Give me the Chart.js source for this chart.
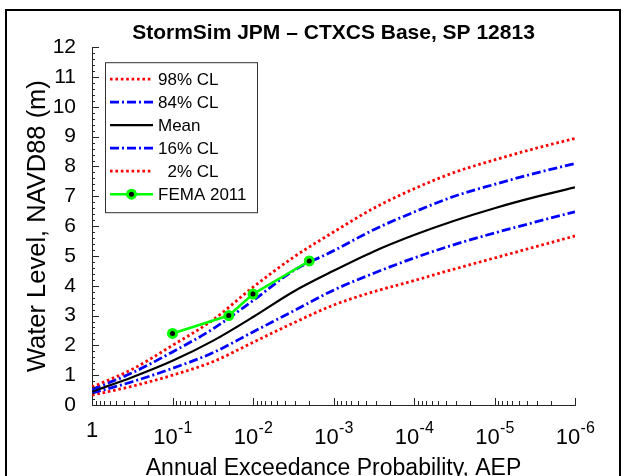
<!DOCTYPE html>
<html><head><meta charset="utf-8">
<script src="https://cdn.jsdelivr.net/npm/chart.js@4.4.0/dist/chart.umd.min.js"></script>
<style>
html,body{margin:0;padding:0;background:#fff;overflow:hidden;width:627px;height:476px}
#wrap{position:relative;width:627px;height:476px;overflow:hidden;background:#fff}
#frame{position:absolute;left:5px;top:9px;width:616px;height:600px;border:2px solid #000;box-sizing:border-box;pointer-events:none}
canvas{position:absolute;left:0;top:0}
</style></head><body>
<div id="wrap"><canvas id="c" width="627" height="490"></canvas><div id="frame"></div></div>
<script>
// ---- data ----
const aep   = [1, 0.316, 0.1, 0.0316, 0.01, 0.00316, 0.001, 3.16e-4, 1e-4, 3.16e-5, 1e-5, 3.16e-6, 1e-6];
const cl98  = [0.6, 1.2, 2.0, 2.85, 3.95, 4.95, 5.8, 6.6, 7.25, 7.8, 8.22, 8.6, 8.94];
const cl84  = [0.52, 1.08, 1.78, 2.55, 3.5, 4.5, 5.17, 5.88, 6.47, 7.0, 7.4, 7.77, 8.1];
const mean  = [0.45, 0.93, 1.48, 2.15, 2.95, 3.8, 4.5, 5.15, 5.7, 6.18, 6.6, 6.97, 7.3];
const cl16  = [0.4, 0.78, 1.23, 1.75, 2.45, 3.15, 3.85, 4.42, 4.93, 5.38, 5.77, 6.13, 6.48];
const cl02  = [0.33, 0.63, 1.0, 1.45, 2.1, 2.75, 3.35, 3.8, 4.17, 4.56, 4.93, 5.3, 5.67];
const femaAep = [0.1, 0.02, 0.01, 0.002];
const femaWl  = [2.4, 3.0, 3.72, 4.83];
const xTickValues = [1, 1e-1, 1e-2, 1e-3, 1e-4, 1e-5, 1e-6];
const yTickValues = [0,1,2,3,4,5,6,7,8,9,10,11,12];
const seriesLabels = ['98% CL', '84% CL', 'Mean', '16% CL', '  2% CL', 'FEMA 2011'];
const titleText = 'StormSim JPM – CTXCS Base, SP 12813';
const xTitle = 'Annual Exceedance Probability, AEP';
const yTitle = 'Water Level, NAVD88 (m)';

const F = "'Liberation Sans', Arial, 'DejaVu Sans', sans-serif";
const pts = (xs, ys) => xs.map((x,i)=>({x, y: ys[i]}));

const RED='#ff0000', BLUE='#0000ff', GREEN='#00ff00';
const curve = {pointRadius:0, fill:false, cubicInterpolationMode:'monotone', order:1};
const datasets = [
  Object.assign({label:seriesLabels[0], data:pts(aep,cl98), borderColor:RED, borderWidth:2.8, borderDash:[2.6,2.8]}, curve),
  Object.assign({label:seriesLabels[1], data:pts(aep,cl84), borderColor:BLUE, borderWidth:2.8, borderDash:[9,3,2,3]}, curve),
  Object.assign({label:seriesLabels[2], data:pts(aep,mean), borderColor:'#000', borderWidth:2.2}, curve),
  Object.assign({label:seriesLabels[3], data:pts(aep,cl16), borderColor:BLUE, borderWidth:2.8, borderDash:[9,3,2,3]}, curve),
  Object.assign({label:seriesLabels[4], data:pts(aep,cl02), borderColor:RED, borderWidth:2.8, borderDash:[2.6,2.8]}, curve),
  {label:seriesLabels[5], data:pts(femaAep,femaWl), borderColor:GREEN, borderWidth:2.5, pointRadius:4,
   pointBackgroundColor:'#000', pointBorderColor:GREEN, pointBorderWidth:3, fill:false, tension:0, order:0}
];

// inward MATLAB-style tick marks + x tick labels with superscript exponents
const axisTicks = {
  id:'axisTicks',
  afterDraw(chart){
    const {ctx, scales:{x,y}, chartArea:a} = chart;
    ctx.save(); ctx.strokeStyle='#262626'; ctx.lineWidth=1; ctx.beginPath();
    for (let e=0; e>=-6; e--) for (let m=1; m<=9; m++){
      const v = m*Math.pow(10,e); if (v>1.0000001 || v<0.99e-6) continue;
      const px = Math.round(x.getPixelForValue(v))+0.5; const len = m===1?7:4;
      ctx.moveTo(px,a.bottom); ctx.lineTo(px,a.bottom-len);
    }
    for (let k=0; k<=60; k++){
      const py = Math.round(y.getPixelForValue(k/5))+0.5; const len = k%5===0?7:3;
      ctx.moveTo(a.left,py); ctx.lineTo(a.left+len,py);
    }
    ctx.stroke();
    ctx.fillStyle='#000'; ctx.textBaseline='alphabetic'; ctx.textAlign='left';
    const base = a.bottom + 39;
    xTickValues.forEach(v=>{
      const px = x.getPixelForValue(v);
      const e = Math.round(Math.log10(v));
      ctx.font = '22px ' + F;
      if (e === 0){ const w = ctx.measureText('1').width; ctx.fillText('1', px - w/2, base - 7); return; }
      const w10 = ctx.measureText('10').width;
      ctx.font = '16px ' + F;
      const es = String(e); const we = ctx.measureText(es).width;
      const x0 = px - (w10 + we)/2;
      ctx.font = '22px ' + F; ctx.fillText('10', x0, base);
      ctx.font = '16px ' + F; ctx.fillText(es, x0 + w10 + 0.5, base - 11);
    });
    ctx.restore();
  }
};

const boxLegend = {
  id:'boxLegend',
  afterDatasetsDraw(chart){
    const ctx = chart.ctx, a = chart.chartArea;
    const x0 = a.left+13, y0 = a.top+15, w = 152, h = 150;
    ctx.save();
    ctx.fillStyle='#fff'; ctx.fillRect(x0,y0,w,h);
    ctx.strokeStyle='#333'; ctx.lineWidth=1; ctx.strokeRect(x0+0.5,y0+0.5,w,h);
    chart.data.datasets.forEach((ds,i)=>{
      const cy = y0 + 17 + i*23;
      ctx.save();
      ctx.strokeStyle = ds.borderColor; ctx.lineWidth = ds.borderWidth;
      ctx.setLineDash(ds.borderDash || []);
      ctx.beginPath(); ctx.moveTo(x0+5, cy); ctx.lineTo(x0+48, cy); ctx.stroke();
      ctx.setLineDash([]);
      if (ds.pointRadius){
        ctx.beginPath(); ctx.arc(x0+26.5, cy, ds.pointRadius, 0, Math.PI*2);
        ctx.fillStyle = ds.pointBackgroundColor; ctx.fill();
        ctx.lineWidth = ds.pointBorderWidth; ctx.strokeStyle = ds.pointBorderColor; ctx.stroke();
      }
      ctx.restore();
      ctx.fillStyle='#000'; ctx.font = '17px ' + F; ctx.textBaseline='middle'; ctx.textAlign='left';
      ctx.fillText(ds.label, x0+53, cy+1);
    });
    ctx.restore();
  }
};

new Chart(document.getElementById('c'), {
  type:'line',
  data:{datasets},
  plugins:[axisTicks, boxLegend],
  options:{
    responsive:false, animation:false,
    layout:{padding:{left:0, right:52, top:0, bottom:0}},
    plugins:{
      legend:{display:false}, tooltip:{enabled:false},
      title:{display:true, fullSize:false, text:titleText, color:'#000', font:{family:F, size:21, weight:'bold'}, padding:{top:21, bottom:1}}
    },
    scales:{
      x:{type:'logarithmic', reverse:true, min:1e-6, max:1,
         afterBuildTicks:s=>{ s.ticks = xTickValues.map(v=>({value:v})); },
         afterFit:s=>{ s.height = 85; },
         grid:{display:false}, border:{display:true, color:'#262626', width:1},
         ticks:{display:false},
         title:{display:true, text:xTitle, color:'#000', font:{family:F, size:23}, padding:{top:0, bottom:8}}
      },
      y:{min:0, max:12,
         afterBuildTicks:s=>{ s.ticks = yTickValues.map(v=>({value:v})); },
         afterFit:s=>{ s.width = 92; },
         grid:{display:false}, border:{display:true, color:'#262626', width:1},
         ticks:{color:'#000', font:{family:F, size:21}, padding:8},
         title:{display:true, text:yTitle, color:'#000', font:{family:F, size:25.5}, padding:{top:23, bottom:0}}
      }
    }
  }
});
</script>
</body></html>
